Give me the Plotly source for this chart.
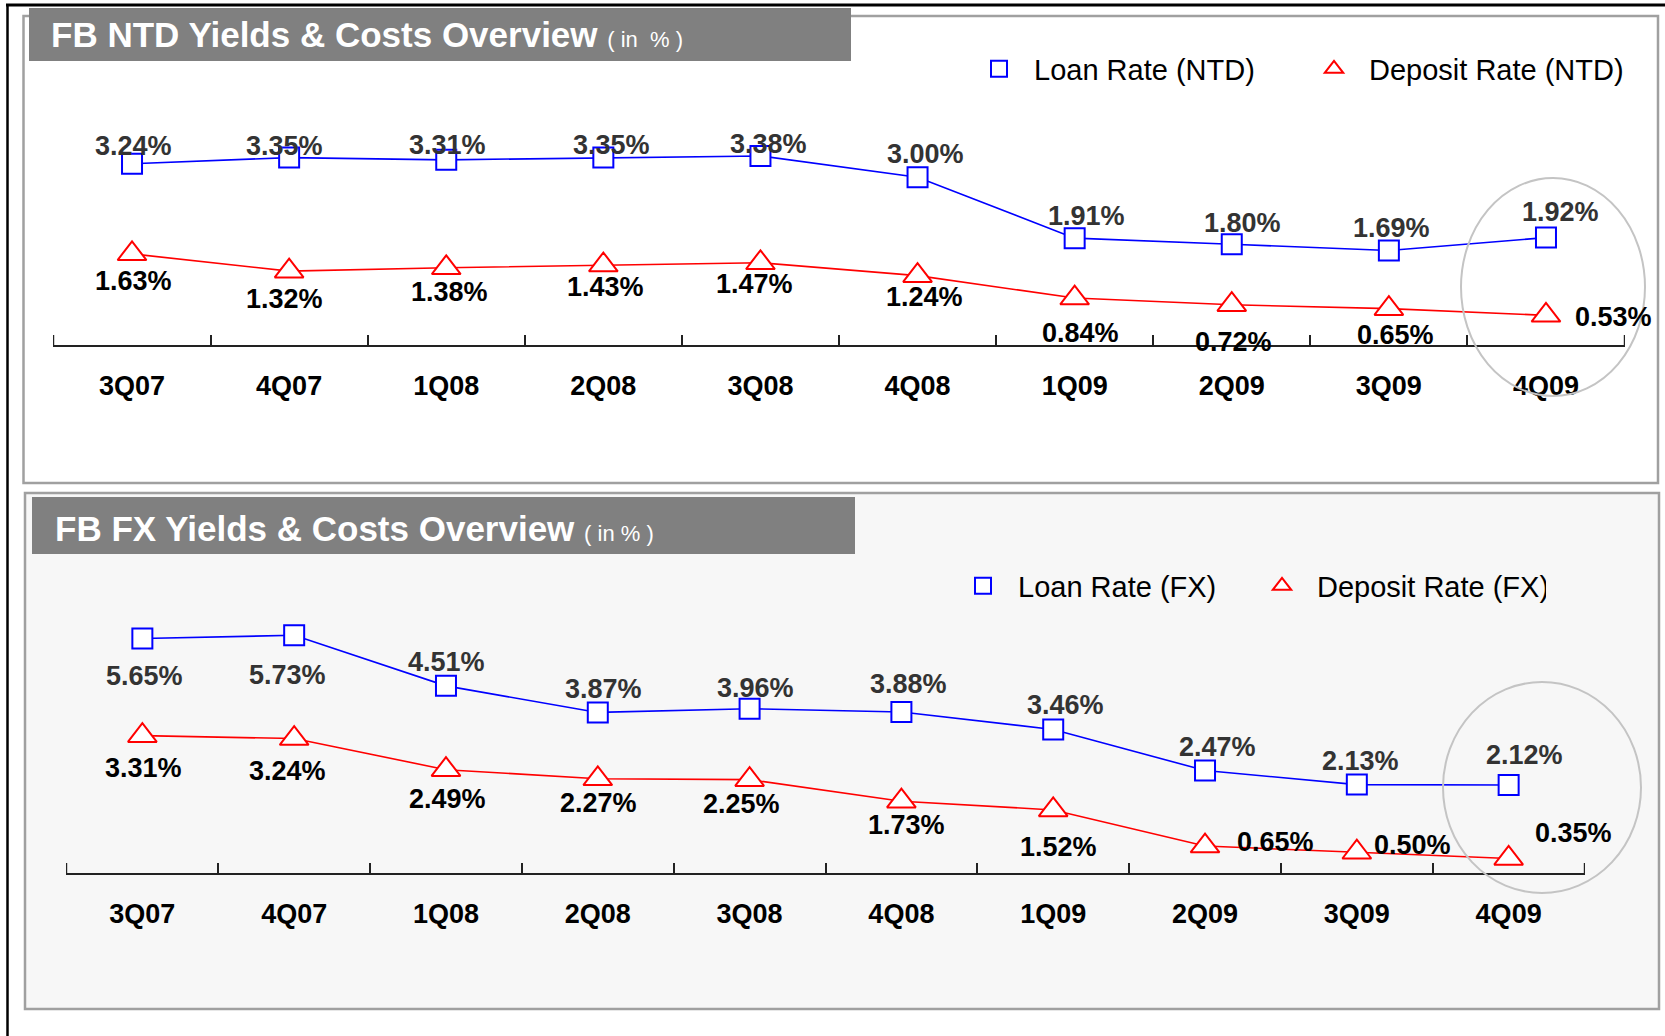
import plotly.graph_objects as go

# ---------------- data ----------------
quarters = ["3Q07", "4Q07", "1Q08", "2Q08", "3Q08", "4Q08", "1Q09", "2Q09", "3Q09", "4Q09"]
ntd_loan = [3.24, 3.35, 3.31, 3.35, 3.38, 3.00, 1.91, 1.80, 1.69, 1.92]
ntd_deposit = [1.63, 1.32, 1.38, 1.43, 1.47, 1.24, 0.84, 0.72, 0.65, 0.53]
fx_loan = [5.65, 5.73, 4.51, 3.87, 3.96, 3.88, 3.46, 2.47, 2.13, 2.12]
fx_deposit = [3.31, 3.24, 2.49, 2.27, 2.25, 1.73, 1.52, 0.65, 0.50, 0.35]

# ---------------- styles ----------------
W, H = 1665, 1036
FONT = "Liberation Sans, Arial, sans-serif"
BLUE, RED = "#0000ff", "#ff0000"

# label offsets in pixels (xshift, yshift)
ntd_loan_off = [(1, 18), (-5, 12), (1, 15), (8, 13), (8, 12), (8, 23), (12, 22), (11, 21), (3, 22), (15, 26)]
ntd_dep_off = [(1, -27), (-5, -28), (3, -24), (2, -22), (-6, -21), (7, -21), (6, -35), (2, -37), (7, -26), (68, -2)]
fx_loan_off = [(2, -37), (-7, -40), (1, 24), (6, 23), (6, 21), (7, 28), (12, 24), (12, 24), (4, 24), (16, 30)]
fx_dep_off = [(1, -32), (-7, -32), (2, -29), (1, -24), (-8, -24), (5, -24), (5, -37), (70, 4), (56, 7), (65, 25)]


def px(x):
    return x / W


def py(y):
    return 1 - y / H


fig = go.Figure()


def add_series(xa, ya, values, color, symbol, size, name, legend):
    fig.add_trace(go.Scatter(x=quarters, y=values, mode="lines", xaxis=xa, yaxis=ya,
                             line=dict(color=color, width=1.6), showlegend=False,
                             hoverinfo="skip", cliponaxis=False))
    fig.add_trace(go.Scatter(x=quarters, y=values, mode="markers", xaxis=xa, yaxis=ya,
                             name=name, legend=legend, cliponaxis=False,
                             marker=dict(symbol=symbol, size=size, color="white",
                                         line=dict(color=color, width=2))))


add_series("x", "y", ntd_loan, BLUE, "square", 20, "Loan Rate (NTD)", "legend")
add_series("x", "y", ntd_deposit, RED, "triangle-up", 25, "Deposit Rate (NTD)", "legend")
add_series("x2", "y2", fx_loan, BLUE, "square", 20, "Loan Rate (FX)", "legend2")
add_series("x2", "y2", fx_deposit, RED, "triangle-up", 25, "Deposit Rate (FX)", "legend2")

annotations = []


def add_labels(xa, ya, values, offs, color):
    for q, v, (dx, dy) in zip(quarters, values, offs):
        annotations.append(dict(x=q, y=v, xref=xa, yref=ya, text=f"<b>{v:.2f}%</b>",
                                showarrow=False, xshift=dx, yshift=dy,
                                font=dict(family=FONT, size=27, color=color)))


add_labels("x", "y", ntd_loan, ntd_loan_off, "#333333")
add_labels("x", "y", ntd_deposit, ntd_dep_off, "#000000")
add_labels("x2", "y2", fx_loan, fx_loan_off, "#333333")
add_labels("x2", "y2", fx_deposit, fx_dep_off, "#000000")

# titles
annotations.append(dict(x=px(49), y=py(35), xref="paper", yref="paper", xanchor="left", yanchor="middle",
                        showarrow=False,
                        text="<b>FB NTD Yields & Costs Overview</b> <span style='font-size:22px'>( in  % )</span>",
                        font=dict(family=FONT, size=35, color="white")))
annotations.append(dict(x=px(53), y=py(528), xref="paper", yref="paper", xanchor="left", yanchor="middle",
                        showarrow=False,
                        text="<b>FB FX Yields & Costs Overview</b> <span style='font-size:22px'>( in % )</span>",
                        font=dict(family=FONT, size=35, color="white")))

shapes = [
    # panel boxes
    dict(type="rect", xref="paper", yref="paper", x0=px(23.5), x1=px(1658), y0=py(483), y1=py(16),
         fillcolor="white", line=dict(color="#a0a0a0", width=2.5), layer="below"),
    dict(type="rect", xref="paper", yref="paper", x0=px(25), x1=px(1659), y0=py(1009), y1=py(493),
         fillcolor="#f7f7f7", line=dict(color="#a0a0a0", width=2.5), layer="below"),
    # outer frame lines
    dict(type="line", xref="paper", yref="paper", x0=px(7.5), x1=px(7.5), y0=0, y1=py(5),
         line=dict(color="black", width=2.5), layer="below"),
    dict(type="line", xref="paper", yref="paper", x0=px(6), x1=1, y0=py(5), y1=py(5),
         line=dict(color="black", width=3), layer="below"),
    # title boxes
    dict(type="rect", xref="paper", yref="paper", x0=px(29), x1=px(851), y0=py(61), y1=py(8),
         fillcolor="#808080", line=dict(width=0), layer="below"),
    dict(type="rect", xref="paper", yref="paper", x0=px(32), x1=px(855), y0=py(554), y1=py(497),
         fillcolor="#808080", line=dict(width=0), layer="below"),
    # highlight ellipses
    dict(type="circle", xref="paper", yref="paper", x0=px(1461), x1=px(1645), y0=py(396), y1=py(178),
         line=dict(color="#c4c4c4", width=2)),
    dict(type="circle", xref="paper", yref="paper", x0=px(1443), x1=px(1641), y0=py(893), y1=py(682),
         line=dict(color="#c4c4c4", width=2)),
]

# end ticks of the category axes (at the outer category boundaries)
for xa, ya in (("x", "y"), ("x2", "y2")):
    for edge in (-0.5, len(quarters) - 0.5):
        shapes.append(dict(type="line", xref=xa, yref=ya, x0=edge, x1=edge,
                           ysizemode="pixel", yanchor=0, y0=0, y1=10,
                           line=dict(color="#222222", width=1.5)))

xaxis_common = dict(type="category", range=[-0.503, 9.503], showline=True, linecolor="#222222", linewidth=1.5,
                    ticks="inside", tickson="boundaries", ticklen=10, tickwidth=1.5, tickcolor="#222222",
                    showgrid=False, zeroline=False, ticklabelstandoff=16,
                    tickfont=dict(family=FONT, size=27, color="black", weight="bold"), fixedrange=True)

fig.update_layout(
    width=W, height=H, margin=dict(l=0, r=0, t=0, b=0),
    paper_bgcolor="white", plot_bgcolor="rgba(0,0,0,0)",
    xaxis=dict(domain=[px(53), px(1625)], anchor="y", **xaxis_common),
    yaxis=dict(domain=[py(345), py(93.3)], range=[0, 4.5], visible=False, fixedrange=True),
    xaxis2=dict(domain=[px(66), px(1585)], anchor="y2", **xaxis_common),
    yaxis2=dict(domain=[py(873), py(603.3)], range=[0, 6.5], visible=False, fixedrange=True),
    legend=dict(orientation="h", x=px(964), y=py(69), xanchor="left", yanchor="middle",
                font=dict(family=FONT, size=29, color="black"), bgcolor="rgba(0,0,0,0)",
                itemwidth=60, entrywidth=260, entrywidthmode="pixels"),
    legend2=dict(orientation="h", x=px(948), y=py(586), xanchor="left", yanchor="middle",
                 font=dict(family=FONT, size=29, color="black"), bgcolor="rgba(0,0,0,0)",
                 itemwidth=60, entrywidth=224, entrywidthmode="pixels"),
    annotations=annotations, shapes=shapes,
)

fig.write_html("out.html", config={"displayModeBar": False},
               post_script="document.body.style.margin='0px';document.body.style.overflow='hidden';")
